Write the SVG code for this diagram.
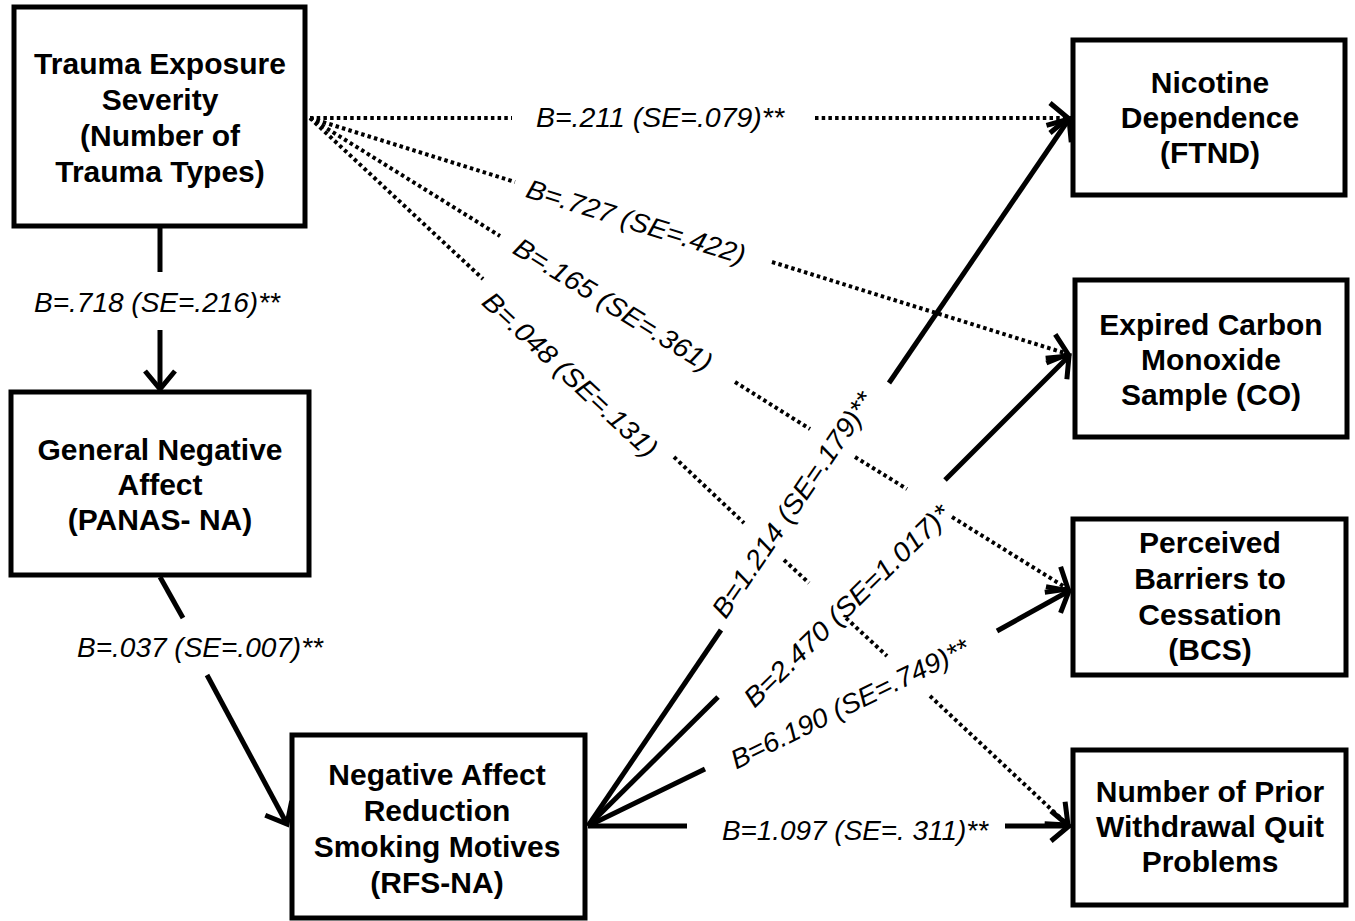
<svg xmlns="http://www.w3.org/2000/svg" width="1355" height="921" viewBox="0 0 1355 921">
<style>
.box{fill:#fff;stroke:#000;stroke-width:5}
.nt{font-family:"Liberation Sans",Arial,sans-serif;font-weight:bold;font-size:30px;text-anchor:middle;fill:#000}
.lb{font-family:"Liberation Sans",Arial,sans-serif;font-style:italic;font-size:27px;text-anchor:middle;fill:#000}
.sl{fill:none;stroke:#000;stroke-width:5}
.dl{fill:none;stroke:#000;stroke-width:4;stroke-dasharray:3.5 3.2}
</style>
<defs>
<marker id="ah" markerUnits="userSpaceOnUse" viewBox="-30 -25 40 50" markerWidth="40" markerHeight="50" refX="0" refY="0" orient="auto" overflow="visible">
<path d="M-18,-15 L0,0 L-18,15" fill="none" stroke="#000" stroke-width="5"/>
</marker>
</defs>
<rect width="1355" height="921" fill="#fff"/>
<g id="connectors">
<line class="sl" x1="160" y1="228" x2="160" y2="272"/>
<line class="sl" x1="160" y1="330" x2="160" y2="389" marker-end="url(#ah)"/>
<line class="sl" x1="160" y1="577" x2="183" y2="618"/>
<line class="sl" x1="207" y1="675" x2="287" y2="824" marker-end="url(#ah)"/>
<line class="dl" x1="310" y1="118" x2="512" y2="118"/>
<line class="dl" x1="815" y1="118" x2="1068" y2="118" marker-end="url(#ah)"/>
<line class="dl" x1="310" y1="118" x2="515" y2="182"/>
<line class="dl" x1="772" y1="262" x2="1068" y2="354" marker-end="url(#ah)"/>
<line class="dl" x1="310" y1="118" x2="500" y2="236"/>
<line class="dl" x1="735" y1="382" x2="810" y2="429"/>
<line class="dl" x1="855" y1="457" x2="907" y2="489"/>
<line class="dl" x1="952" y1="517" x2="1068" y2="589" marker-end="url(#ah)"/>
<line class="dl" x1="310" y1="118" x2="483" y2="279"/>
<line class="dl" x1="674" y1="457" x2="744" y2="523"/>
<line class="dl" x1="784" y1="560" x2="809" y2="583"/>
<line class="dl" x1="846" y1="618" x2="887" y2="656"/>
<line class="dl" x1="930" y1="696" x2="1068" y2="825" marker-end="url(#ah)"/>
<line class="sl" x1="588" y1="826" x2="721" y2="630"/>
<line class="sl" x1="889" y1="383" x2="1069" y2="119" marker-end="url(#ah)"/>
<line class="sl" x1="588" y1="826" x2="718" y2="697"/>
<line class="sl" x1="945" y1="480" x2="1069" y2="356" marker-end="url(#ah)"/>
<line class="sl" x1="588" y1="826" x2="705" y2="769"/>
<line class="sl" x1="997" y1="631" x2="1069" y2="591" marker-end="url(#ah)"/>
<line class="sl" x1="588" y1="826" x2="687" y2="826"/>
<line class="sl" x1="1005" y1="826" x2="1069" y2="826" marker-end="url(#ah)"/>
<text class="lb" x="157" y="312" textLength="246" lengthAdjust="spacingAndGlyphs">B=.718 (SE=.216)**</text>
<text class="lb" x="200" y="657" textLength="246" lengthAdjust="spacingAndGlyphs">B=.037 (SE=.007)**</text>
<text class="lb" x="660" y="127" textLength="248" lengthAdjust="spacingAndGlyphs">B=.211 (SE=.079)**</text>
<text class="lb" transform="translate(636,222) rotate(17.3)" x="0" y="9" textLength="228" lengthAdjust="spacingAndGlyphs">B=.727 (SE=.422)</text>
<text class="lb" transform="translate(613,305) rotate(31.8)" x="0" y="9" textLength="228" lengthAdjust="spacingAndGlyphs">B=.165 (SE=.361)</text>
<text class="lb" transform="translate(570,375) rotate(43)" x="0" y="9" textLength="228" lengthAdjust="spacingAndGlyphs">B=.048 (SE=.131)</text>
<text class="lb" transform="translate(793,505) rotate(-55.8)" x="0" y="9" textLength="266" lengthAdjust="spacingAndGlyphs">B=1.214 (SE=.179)**</text>
<text class="lb" transform="translate(847,606) rotate(-44.3)" x="0" y="9" textLength="276" lengthAdjust="spacingAndGlyphs">B=2.470 (SE=1.017)*</text>
<text class="lb" transform="translate(850,704) rotate(-26.1)" x="0" y="9" textLength="262" lengthAdjust="spacingAndGlyphs">B=6.190 (SE=.749)**</text>
<text class="lb" x="855" y="840" textLength="266" lengthAdjust="spacingAndGlyphs">B=1.097 (SE=. 311)**</text>
</g>
<g id="trauma">
<rect class="box" x="14" y="7" width="291" height="219"/>
<text class="nt" x="160" y="74">Trauma Exposure</text>
<text class="nt" x="160" y="110">Severity</text>
<text class="nt" x="160" y="146">(Number of</text>
<text class="nt" x="160" y="182">Trauma Types)</text>
</g>
<g id="gna">
<rect class="box" x="11" y="392" width="298" height="183"/>
<text class="nt" x="160" y="460">General Negative</text>
<text class="nt" x="160" y="495">Affect</text>
<text class="nt" x="160" y="530">(PANAS- NA)</text>
</g>
<g id="narsm">
<rect class="box" x="292" y="735" width="293" height="183"/>
<text class="nt" x="437" y="785">Negative Affect</text>
<text class="nt" x="437" y="821">Reduction</text>
<text class="nt" x="437" y="857">Smoking Motives</text>
<text class="nt" x="437" y="893">(RFS-NA)</text>
</g>
<g id="ftnd">
<rect class="box" x="1073" y="40" width="272" height="155"/>
<text class="nt" x="1210" y="93">Nicotine</text>
<text class="nt" x="1210" y="128">Dependence</text>
<text class="nt" x="1210" y="163">(FTND)</text>
</g>
<g id="co">
<rect class="box" x="1075" y="280" width="272" height="157"/>
<text class="nt" x="1211" y="335">Expired Carbon</text>
<text class="nt" x="1211" y="370">Monoxide</text>
<text class="nt" x="1211" y="405">Sample (CO)</text>
</g>
<g id="bcs">
<rect class="box" x="1073" y="519" width="273" height="156"/>
<text class="nt" x="1210" y="553">Perceived</text>
<text class="nt" x="1210" y="589">Barriers to</text>
<text class="nt" x="1210" y="625">Cessation</text>
<text class="nt" x="1210" y="660">(BCS)</text>
</g>
<g id="withdrawal">
<rect class="box" x="1073" y="750" width="273" height="155"/>
<text class="nt" x="1210" y="802">Number of Prior</text>
<text class="nt" x="1210" y="837">Withdrawal Quit</text>
<text class="nt" x="1210" y="872">Problems</text>
</g>
</svg>
